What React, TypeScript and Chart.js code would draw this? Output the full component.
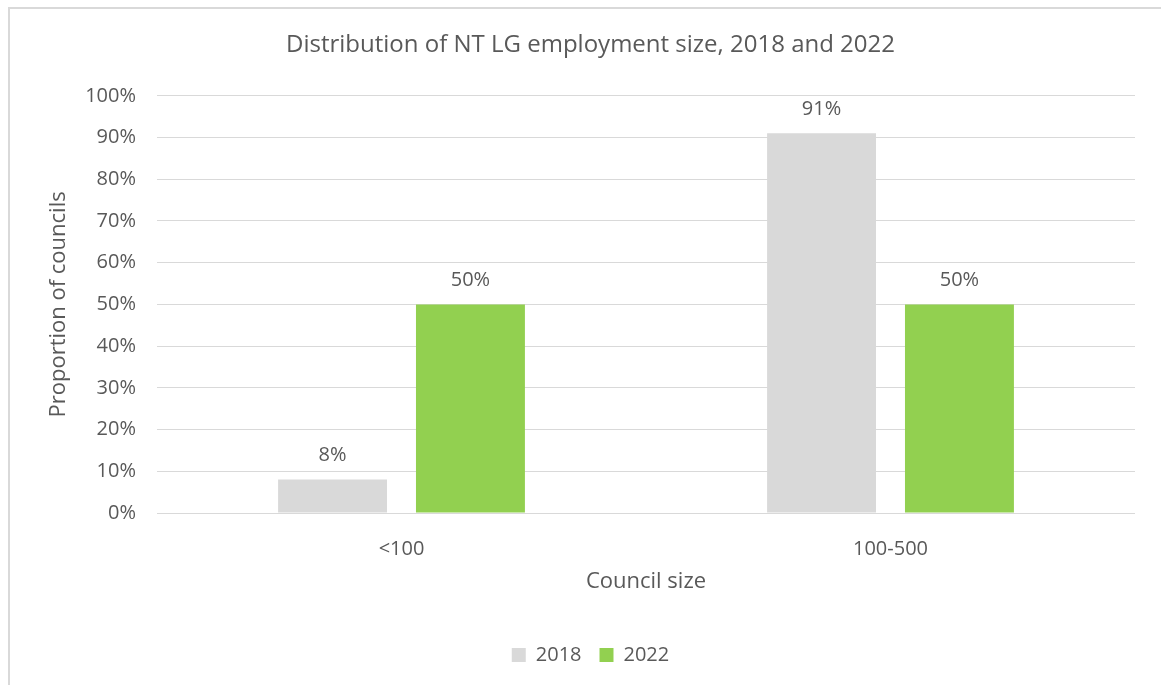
import React, { useEffect, useRef } from "react";
import { Chart, registerables } from "chart.js";

Chart.register(...registerables);

const categories = ["<100", "100-500"];
const series2018 = [0.08, 0.91];
const series2022 = [0.5, 0.5];
const seriesNames = ["2018", "2022"];
const yTickMax = 1.0;
const yTickStep = 0.1;

const FONT = "'Open Sans', 'Noto Sans', sans-serif";
const TEXT = "#595959";

const dataLabels = {
  id: "dataLabels",
  afterDatasetsDraw(chart: any) {
    const ctx = chart.ctx;
    ctx.save();
    ctx.font = `20px ${FONT}`;
    ctx.fillStyle = TEXT;
    ctx.textAlign = "center";
    ctx.textBaseline = "middle";
    chart.data.datasets.forEach((ds: any, i: number) => {
      const meta = chart.getDatasetMeta(i);
      meta.data.forEach((bar: any, j: number) => {
        const v = ds.data[j];
        ctx.fillText(Math.round(v * 100) + "%", bar.x, bar.y - 24);
      });
    });
    ctx.restore();
  },
};

export default function App() {
  const ref = useRef<HTMLCanvasElement>(null);
  useEffect(() => {
    if (!ref.current) return;
    const chart = new Chart(ref.current, {
      type: "bar",
      data: {
        labels: categories,
        datasets: [
          {
            label: seriesNames[0],
            data: series2018,
            backgroundColor: "#d9d9d9",
            categoryPercentage: 0.564,
            barPercentage: 0.79,
          },
          {
            label: seriesNames[1],
            data: series2022,
            backgroundColor: "#92d050",
            categoryPercentage: 0.564,
            barPercentage: 0.79,
          },
        ],
      },
      options: {
        animation: false,
        responsive: false,
        layout: { padding: { left: 36, right: 26, top: 0, bottom: 10 } },
        plugins: {
          title: {
            display: true,
            text: "Distribution of NT LG employment size, 2018 and 2022",
            color: TEXT,
            font: { family: FONT, size: 24, weight: "normal" },
            padding: { top: 22, bottom: 36 },
          },
          legend: {
            position: "bottom",
            labels: {
              color: TEXT,
              font: { family: FONT, size: 20 },
              boxWidth: 14,
              boxHeight: 14,
              padding: 18,
            },
          },
          tooltip: { enabled: false },
        },
        scales: {
          x: {
            grid: { display: false },
            border: { display: false },
            ticks: {
              color: TEXT,
              font: { family: FONT, size: 20 },
              padding: 16,
            },
            title: {
              display: true,
              text: "Council size",
              color: TEXT,
              font: { family: FONT, size: 22 },
              padding: { top: 0, bottom: 32 },
            },
            afterFit: (scale: any) => {
              scale.height = 114;
            },
          },
          y: {
            min: 0,
            max: yTickMax,
            grid: { color: "#d9d9d9", lineWidth: 1, drawTicks: false },
            border: { display: false },
            ticks: {
              stepSize: yTickStep,
              color: TEXT,
              font: { family: FONT, size: 20 },
              padding: 21,
              callback: (v: any) => Math.round(Number(v) * 100) + "%",
            },
            title: {
              display: true,
              text: "Proportion of councils",
              color: TEXT,
              font: { family: FONT, size: 22 },
              padding: { top: 0, bottom: 0 },
            },
            afterFit: (scale: any) => {
              scale.width = 111;
            },
          },
        },
      },
      plugins: [dataLabels],
    });
    return () => chart.destroy();
  }, []);
  return (
    <div
      style={{
        position: "absolute",
        left: 8,
        top: 7,
        width: 1170,
        height: 700,
        borderLeft: "2px solid #d9d9d9",
        borderTop: "2px solid #d9d9d9",
        boxSizing: "border-box",
        background: "#fff",
      }}
    >
      <canvas ref={ref} width={1151} height={676} style={{ display: "block" }} />
    </div>
  );
}
